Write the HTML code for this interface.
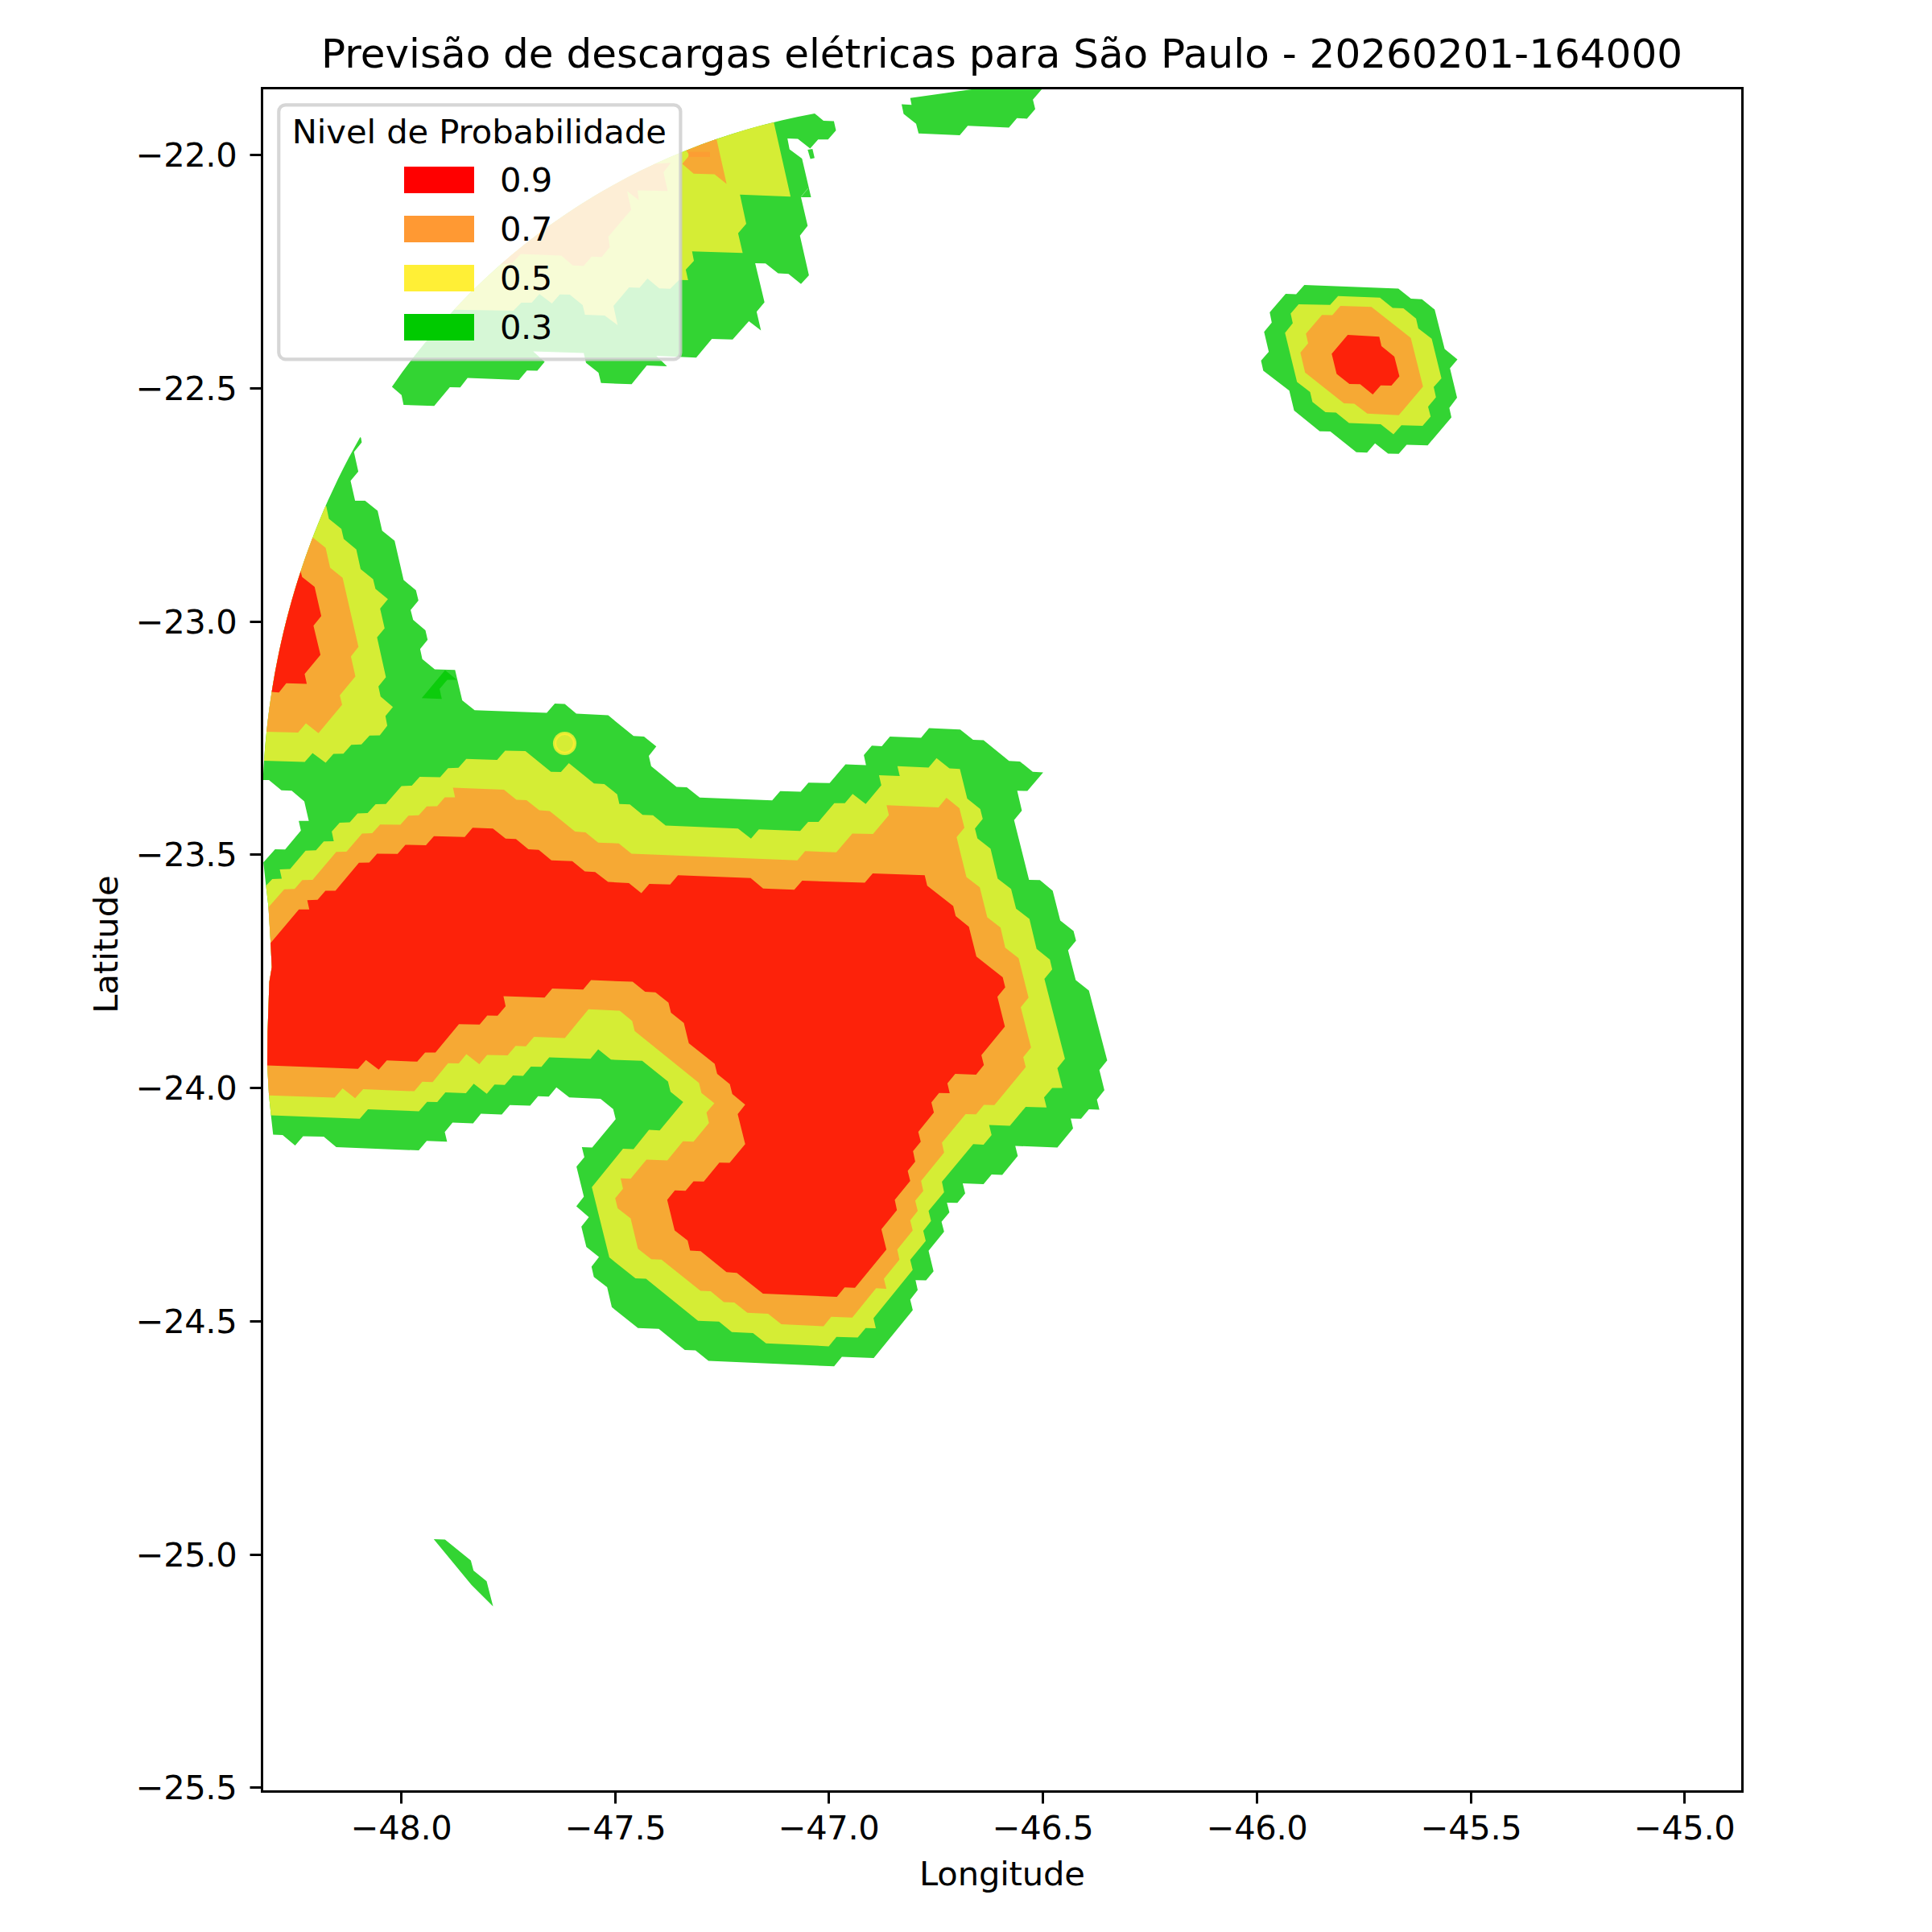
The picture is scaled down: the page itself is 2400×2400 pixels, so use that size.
<!DOCTYPE html>
<html lang="pt"><head><meta charset="utf-8"><title>Previsão de descargas elétricas para São Paulo</title>
<style>html,body{margin:0;padding:0;background:#fff}svg{display:block}text{font-family:'DejaVu Sans','Liberation Sans',sans-serif;fill:#000}</style></head><body>
<svg width="2400" height="2400" viewBox="0 0 2400 2400">
<rect width="2400" height="2400" fill="#fff"/>
<defs><clipPath id="ax"><rect x="325.5" y="109.5" width="1839.0" height="2116.0"/></clipPath></defs>
<g clip-path="url(#ax)">
<polygon fill="#33d433" points="448.4,543.8 449.4,549.6 439.7,561.4 445.1,585.8 435.5,597.2 441.1,621.9 453.5,622.1 469.1,634.5 474.7,659.3 490.2,671.8 501.4,720.4 516.7,733.3 519.8,746.1 510.1,757.7 513.2,770.1 528.5,782.9 531.2,794.7 521.9,806.3 524.6,818.8 540.1,831.6 565.3,832.2 574.2,869.9 589.6,882.3 679.2,885.4 689.2,874.0 701.6,874.5 715.9,886.5 755.5,888.6 787.0,914.2 800.0,914.9 815.3,927.3 806.0,939.1 808.9,951.7 840.4,977.4 853.2,978.0 869.2,990.8 959.2,994.2 969.2,982.8 994.6,983.6 1004.3,972.2 1030.6,972.8 1050.3,949.4 1075.8,950.5 1073.1,938.1 1083.0,926.3 1095.4,926.9 1105.5,914.9 1144.2,916.5 1154.1,904.5 1192.8,906.2 1208.8,919.0 1221.8,919.6 1253.5,945.3 1267.0,945.9 1282.9,958.8 1295.9,959.4 1276.3,982.6 1263.6,982.2 1269.4,1007.0 1259.7,1018.8 1278.3,1092.9 1291.8,1093.3 1307.7,1106.4 1317.1,1143.6 1333.6,1156.5 1336.7,1168.5 1326.8,1180.5 1336.3,1217.6 1352.7,1230.6 1375.4,1317.3 1365.7,1329.3 1371.9,1354.2 1362.6,1366.0 1365.7,1378.4 1352.7,1378.0 1342.9,1389.8 1330.1,1389.4 1333.0,1401.8 1313.5,1425.4 1261.2,1423.5 1264.3,1435.9 1245.0,1459.5 1231.8,1459.1 1221.8,1470.9 1195.9,1469.9 1199.0,1482.5 1189.3,1494.3 1176.3,1493.9 1179.4,1506.1 1169.6,1517.7 1172.8,1530.1 1153.5,1553.7 1159.7,1579.2 1150.4,1590.6 1137.3,1590.2 1140.0,1602.6 1130.7,1614.4 1133.9,1627.4 1085.4,1687.0 1045.8,1685.5 1036.2,1697.3 880.1,1690.5 864.0,1677.6 850.7,1677.0 818.4,1650.7 792.5,1649.7 760.0,1623.8 754.2,1599.0 737.7,1586.3 734.8,1573.5 744.1,1561.5 728.4,1549.1 722.2,1523.8 731.5,1512.0 715.9,1498.5 725.3,1486.5 716.1,1449.2 725.9,1437.4 722.8,1425.0 735.6,1425.6 764.8,1390.2 761.7,1377.8 746.0,1364.9 707.2,1363.3 691.2,1350.8 681.7,1362.2 668.4,1361.8 658.5,1373.6 633.3,1372.8 623.3,1384.6 597.4,1383.6 587.7,1395.4 562.2,1394.5 552.5,1406.3 555.4,1418.3 530.1,1417.3 520.2,1429.1 417.7,1425.0 402.2,1412.1 376.5,1411.5 366.6,1422.9 351.1,1409.9 339.3,1409.4 336.6,1385.6 334.1,1360.8 332.0,1323.5 332.4,1282.1 334.5,1220.0 337.6,1201.6 336.1,1170.6 333.5,1127.1 330.4,1100.2 327.2,1071.2 341.7,1055.0 354.2,1055.2 373.8,1031.8 371.1,1019.8 383.6,1019.8 378.0,995.6 362.4,982.2 349.6,981.7 334.1,969.1 326.6,969.0 327.4,954.0 328.4,939.0 329.6,924.1 331.1,909.1 332.7,894.2 334.6,879.3 336.8,864.4 339.1,849.6 341.7,834.9 344.5,820.1 347.6,805.5 350.8,790.9 354.3,776.3 358.0,761.8 362.0,747.4 366.1,733.1 370.5,718.9 375.1,704.7 380.0,690.6 385.0,676.7 390.3,662.8 395.8,649.0 401.5,635.3 407.4,621.8 413.6,608.4 419.9,595.0 426.5,581.8 433.2,568.8 440.2,555.9 447.4,543.1"/>
<polygon fill="#33d433" points="1023.0,149.9 1035.9,150.5 1038.5,162.1 1028.7,173.2 1016.3,173.2 1006.4,184.4 991.1,172.5 978.2,171.9 980.8,185.4 996.3,197.0 1007.5,244.9 995.0,244.9 1003.3,280.6 993.7,292.8 1004.9,342.0 995.0,352.8 979.5,340.2 966.6,339.6 951.0,327.2 938.1,327.0 949.7,375.6 939.9,387.3 945.3,410.6 930.3,398.9 910.1,421.7 884.3,420.9 864.9,444.2 815.2,442.1 828.6,455.1 803.5,454.0 784.6,477.3 746.6,475.8 743.5,463.1 728.0,450.7 725.1,438.5 662.3,436.4 676.6,449.4 667.5,460.5 654.6,460.2 644.7,471.9 580.8,469.6 571.7,481.2 558.8,481.0 539.4,504.2 501.3,503.0 498.8,490.8 486.9,480.4 499.7,462.3 513.0,444.6 526.8,427.3 540.9,410.4 555.4,393.9 570.4,377.9 585.6,362.3 601.3,347.2 617.3,332.6 633.7,318.4 650.3,304.7 667.3,291.5 684.6,278.7 702.2,266.5 720.0,254.8 738.1,243.6 756.5,232.9 775.1,222.7 793.9,213.1 812.9,203.9 832.1,195.3 851.5,187.2 871.1,179.6 890.8,172.6 910.7,166.0 930.7,160.0 950.9,154.5 971.1,149.5 991.5,145.0 1012.0,141.0"/>
<polygon fill="#33d433" points="1003.3,185.9 1009.3,184.9 1011.9,196.3 1006.7,197.6"/>
<polygon fill="#33d433" points="1226.2,108.3 1130.7,121.7 1132.4,130.2 1120.0,129.6 1122.5,141.4 1138.0,153.8 1141.1,165.8 1192.2,167.9 1202.2,156.3 1253.3,158.6 1263.3,146.8 1275.7,147.4 1286.0,135.6 1283.1,123.8 1296.4,108.3"/>
<polygon fill="#33d433" points="1620.3,354.0 1737.1,358.6 1752.8,371.0 1766.4,371.8 1782.2,384.6 1794.6,433.5 1810.5,446.4 1801.2,457.5 1810.0,493.9 1800.4,506.7 1803.0,518.4 1773.5,553.2 1747.4,552.4 1737.6,563.8 1724.3,563.5 1708.1,550.7 1698.2,562.3 1684.9,561.8 1652.6,536.1 1639.4,535.7 1607.6,510.1 1601.6,485.3 1569.3,460.5 1566.5,448.0 1576.1,437.1 1570.3,412.3 1579.8,400.8 1577.3,387.9 1597.1,365.1 1610.1,365.5"/>
<polygon fill="#33d433" points="538.8,1912.1 552.8,1912.4 584.9,1938.4 588.2,1951.1 604.5,1964.3 612.5,1995.6 585.6,1968.7"/>
<polygon fill="#0ccc0c" points="552.9,832.6 567.4,844.6 555.6,844.4 546.1,855.8 548.8,868.2 523.9,867.2"/>
<polygon fill="#d5ed35" points="405.3,628.7 408.6,644.6 424.1,657.1 427.0,669.5 442.6,682.5 448.0,707.0 463.5,719.4 466.4,731.6 481.9,744.2 472.2,756.0 477.8,780.5 468.4,791.8 479.4,841.3 470.1,852.7 472.8,865.3 488.1,878.2 478.8,889.6 481.1,901.6 471.8,913.4 459.1,913.8 449.0,924.8 436.4,925.2 426.6,936.2 414.2,936.6 404.5,947.6 388.3,935.6 378.6,946.5 328.0,945.1 329.0,931.4 330.2,917.7 331.6,904.1 333.2,890.5 335.0,876.9 336.9,863.3 339.1,849.8 341.5,836.3 344.0,822.8 346.7,809.4 349.6,796.1 352.7,782.7 356.0,769.5 359.5,756.3 363.2,743.2 367.0,730.1 371.1,717.1 375.3,704.2 379.7,691.3 384.3,678.5 389.1,665.8 394.1,653.2 399.2,640.7 404.5,628.3"/>
<polygon fill="#d5ed35" points="330.4,1100.2 338.2,1091.9 350.0,1091.5 347.5,1080.1 360.4,1079.5 379.6,1056.7 392.5,1056.3 402.2,1045.3 414.6,1044.9 412.1,1032.9 421.9,1021.9 434.5,1021.5 444.2,1010.5 456.6,1010.1 466.6,999.1 479.4,998.7 498.7,976.4 511.5,975.9 521.4,965.0 546.7,965.6 556.6,954.2 569.5,953.8 579.2,942.8 617.5,943.9 627.5,932.5 652.7,933.1 684.4,958.8 696.8,959.0 706.7,948.0 737.9,973.3 750.7,973.9 766.7,986.7 769.4,998.7 782.4,999.3 798.3,1012.2 811.2,1012.8 826.9,1025.6 916.8,1029.2 932.9,1041.8 942.7,1030.2 994.0,1032.3 1003.9,1020.9 1016.8,1020.9 1036.4,997.7 1049.5,997.7 1059.2,986.3 1075.4,998.7 1094.8,975.5 1091.9,962.9 1117.7,964.1 1114.8,951.7 1153.5,953.6 1163.4,941.8 1179.4,954.6 1192.4,955.2 1201.5,992.1 1217.7,1004.9 1220.8,1017.3 1211.1,1029.2 1214.2,1041.6 1230.5,1054.2 1239.4,1091.5 1256.0,1104.3 1262.2,1128.7 1278.8,1141.6 1287.7,1178.8 1304.2,1191.9 1307.1,1204.3 1297.4,1216.1 1322.9,1315.2 1313.5,1327.0 1319.8,1351.5 1307.1,1351.5 1297.0,1363.3 1300.1,1375.7 1274.2,1374.9 1254.5,1398.5 1228.7,1397.6 1231.8,1409.9 1221.8,1421.9 1209.0,1421.2 1170.1,1468.0 1172.8,1480.9 1153.5,1504.3 1156.6,1516.7 1146.9,1529.1 1150.0,1541.5 1130.7,1565.1 1133.8,1577.6 1085.1,1637.5 1088.0,1649.9 1075.3,1649.8 1065.5,1661.6 1039.1,1660.8 1029.5,1672.4 951.6,1668.7 935.4,1655.9 909.1,1654.7 893.2,1641.8 867.1,1640.8 802.5,1588.6 789.4,1588.0 756.9,1562.1 735.2,1474.7 773.9,1427.0 787.0,1427.5 806.2,1403.6 819.5,1404.3 848.7,1369.1 832.9,1356.2 829.8,1343.6 797.7,1317.7 759.0,1316.3 743.1,1303.4 733.5,1315.2 682.3,1313.6 672.6,1325.2 659.5,1325.0 649.8,1336.6 637.2,1335.9 627.0,1347.7 614.4,1347.3 604.7,1358.7 588.5,1346.3 578.8,1358.1 553.3,1357.1 543.2,1369.1 530.6,1368.7 520.4,1380.5 457.1,1378.0 446.9,1389.8 336.6,1385.6 334.1,1360.8 332.0,1323.5 332.4,1282.1 334.5,1220.0 337.6,1201.6 336.1,1170.6 333.5,1127.1"/>
<polygon fill="#d5ed35" points="982.1,244.2 919.2,241.8 927.0,278.1 916.9,289.7 922.6,314.3 859.7,312.2 862.0,323.9 851.9,335.0 854.8,347.9 843.6,347.7 832.5,358.8 819.0,358.3 804.3,345.9 794.5,357.5 781.5,357.0 762.1,380.0 767.3,404.1 751.2,391.9 726.7,391.1 723.8,379.0 707.8,366.0 695.4,365.8 685.6,376.9 670.1,365.3 660.5,376.1 647.6,375.9 637.7,386.0 564.0,384.7 577.8,370.2 591.9,356.2 606.3,342.5 621.1,329.2 636.1,316.3 651.3,303.9 666.9,291.8 682.6,280.1 698.7,268.9 714.9,258.1 731.4,247.7 748.1,237.7 765.0,228.2 782.0,219.1 799.3,210.4 816.7,202.1 834.3,194.3 852.1,187.0 870.0,180.0 888.0,173.5 906.1,167.5 924.4,161.8 942.8,156.6 961.3,151.9"/>
<polygon fill="#d5ed35" points="1662.2,367.7 1714.2,369.7 1730.0,382.4 1743.4,382.9 1759.1,395.7 1761.9,408.1 1778.5,420.7 1790.6,469.9 1781.0,480.7 1783.8,493.4 1774.0,505.2 1777.2,517.4 1767.2,529.0 1740.9,528.2 1731.0,539.5 1715.1,527.0 1675.8,525.4 1659.6,512.6 1646.5,512.1 1630.3,499.2 1627.5,487.0 1611.2,474.4 1596.3,413.6 1605.9,401.5 1603.3,389.6 1613.2,378.0 1652.3,378.8"/>
<polygon fill="#f6a934" points="388.3,667.4 404.5,680.5 410.1,705.3 425.6,717.7 445.3,803.6 435.9,815.4 441.5,840.3 422.1,863.7 425.0,875.5 395.6,910.7 380.0,898.5 370.3,909.9 331.1,908.9 332.8,893.4 334.8,877.9 337.1,862.4 339.6,847.0 342.3,831.7 345.3,816.4 348.5,801.1 352.0,786.0 355.7,770.8 359.6,755.8 363.8,740.9 368.3,726.0 373.0,711.2 377.9,696.5 383.1,682.0 388.5,667.5"/>
<polygon fill="#f6a934" points="333.5,1127.1 353.1,1104.7 366.0,1104.3 375.5,1093.3 388.3,1092.9 417.7,1058.3 430.4,1058.1 449.8,1035.4 462.4,1034.9 472.2,1024.2 497.4,1024.6 507.4,1013.2 520.2,1012.8 530.1,1001.8 543.0,1001.4 552.5,990.4 565.3,990.4 562.7,978.6 626.0,981.1 641.5,993.5 654.0,994.0 669.9,1006.6 682.7,1007.4 714.4,1032.9 727.3,1033.9 743.1,1046.7 768.7,1047.8 784.5,1060.4 990.5,1068.7 1000.2,1057.3 1038.9,1058.8 1058.8,1035.4 1084.5,1036.0 1104.2,1012.6 1101.3,1000.2 1165.9,1002.9 1175.7,991.1 1191.8,1003.9 1198.0,1028.3 1188.3,1040.1 1200.5,1089.4 1217.1,1102.2 1226.4,1139.5 1242.9,1152.3 1248.7,1177.2 1265.3,1190.2 1277.7,1239.3 1268.0,1251.3 1280.8,1301.2 1271.1,1313.2 1274.2,1325.6 1235.3,1372.8 1222.2,1372.6 1212.5,1384.2 1199.5,1384.0 1170.1,1419.4 1172.8,1431.8 1144.2,1467.0 1146.9,1479.4 1136.9,1491.6 1140.0,1504.3 1130.7,1516.1 1133.8,1528.5 1114.6,1552.3 1117.3,1564.7 1098.0,1588.5 1101.1,1601.0 1088.3,1600.3 1058.7,1636.7 1032.6,1635.8 1023.0,1647.6 970.6,1644.9 954.2,1631.9 928.4,1630.8 912.2,1618.0 899.2,1617.4 882.8,1604.1 870.2,1603.5 821.7,1564.8 809.1,1564.2 792.5,1551.3 783.4,1513.6 767.3,1501.0 764.2,1488.5 773.9,1476.7 771.0,1463.7 783.4,1464.3 803.1,1440.5 829.0,1441.5 848.4,1417.7 861.5,1418.3 880.7,1394.9 877.6,1382.1 887.4,1370.5 871.4,1357.7 868.3,1345.3 788.4,1280.7 785.3,1268.2 769.8,1255.6 731.1,1253.7 701.7,1289.4 663.3,1287.9 653.3,1299.7 640.5,1299.3 630.6,1311.1 605.1,1310.5 595.4,1321.9 579.4,1309.6 569.9,1321.0 556.6,1320.8 537.4,1344.2 524.6,1343.8 514.6,1355.6 451.1,1352.9 441.1,1364.3 425.6,1352.1 415.7,1363.5 334.1,1360.8 332.0,1323.5 332.4,1282.1 334.5,1220.0 337.6,1201.6 336.1,1170.6"/>
<polygon fill="#f6a934" points="902.6,228.6 887.6,216.5 861.7,215.7 847.5,203.5 856.6,192.7 852.3,186.9 858.6,184.4 864.9,182.0 871.1,179.6 877.4,177.3 883.8,175.0 890.1,172.8"/>
<polygon fill="#f6a934" points="833.3,202.2 824.2,213.9 829.4,237.2 791.9,236.6 793.7,248.8 778.9,237.2 784.1,260.5 755.6,294.1 757.5,307.0 747.4,319.2 734.9,318.7 725.1,330.3 711.6,329.8 697.3,317.4 646.8,315.6 636.4,326.4 621.6,328.7 636.4,316.1 651.4,303.8 666.7,291.9 682.2,280.4 698.0,269.4 714.0,258.7 730.2,248.4 746.6,238.6 763.2,229.2 780.0,220.1 796.9,211.5 814.0,203.4"/>
<polygon fill="#f6a934" points="1665.1,380.0 1703.6,381.3 1752.5,419.7 1767.7,480.3 1737.6,515.8 1698.5,513.8 1682.4,501.4 1669.5,500.9 1621.2,462.8 1615.4,438.1 1625.0,426.5 1622.3,414.4 1642.2,391.2 1655.1,391.6"/>
<polygon fill="#fc9d33" points="855.3,188.8 881.9,188.8 881.9,195.0 855.3,195.0"/>
<polygon fill="#fd220a" points="373.4,709.4 375.3,716.7 390.8,729.1 399.1,765.3 389.4,777.3 398.1,813.6 378.4,837.2 381.1,849.6 355.6,848.8 346.5,860.2 337.5,859.6 339.6,846.9 341.8,834.1 344.3,821.5 346.8,808.8 349.6,796.2 352.5,783.7 355.6,771.2 358.9,758.7 362.3,746.3 365.9,734.0 369.6,721.7 373.6,709.5"/>
<polygon fill="#fd220a" points="336.1,1171.6 371.3,1129.8 384.2,1129.8 381.7,1118.2 394.5,1117.8 404.3,1106.4 416.7,1106.4 445.9,1071.8 458.7,1071.6 468.4,1060.4 493.9,1060.8 503.6,1049.4 529.1,1049.9 539.0,1038.7 577.3,1039.7 587.1,1028.3 612.3,1029.2 628.1,1041.8 640.9,1042.2 656.4,1055.0 669.3,1055.7 685.0,1068.7 710.9,1069.7 726.5,1082.6 739.3,1083.2 755.3,1095.6 781.2,1097.1 796.7,1109.5 806.6,1098.1 832.5,1098.7 842.2,1087.3 932.5,1090.8 948.0,1103.7 986.7,1105.3 996.5,1094.0 1074.3,1096.6 1084.1,1085.1 1148.7,1087.3 1151.8,1100.2 1184.1,1125.6 1187.2,1138.1 1203.6,1151.3 1212.9,1188.2 1245.6,1214.0 1248.7,1226.5 1239.0,1238.3 1248.3,1275.3 1219.1,1310.7 1222.2,1323.1 1212.5,1334.9 1186.6,1333.9 1176.9,1345.7 1179.8,1358.1 1166.5,1357.7 1157.0,1369.5 1160.1,1382.1 1140.7,1405.9 1143.8,1418.3 1134.2,1430.1 1136.9,1443.0 1127.6,1454.6 1130.7,1467.0 1111.5,1490.6 1114.2,1503.2 1094.9,1527.0 1101.1,1552.3 1062.1,1599.8 1049.2,1599.3 1039.6,1610.9 947.8,1607.0 915.3,1581.2 902.5,1580.3 870.4,1554.2 857.3,1553.4 854.2,1541.0 838.1,1528.6 828.8,1490.6 838.3,1478.8 851.6,1479.2 861.5,1467.4 874.3,1467.8 893.6,1444.2 906.4,1444.6 925.7,1421.2 916.4,1384.0 925.7,1372.2 909.7,1359.1 906.6,1346.7 890.9,1333.9 887.8,1321.4 855.7,1296.0 849.5,1270.7 833.5,1257.9 830.4,1245.5 814.3,1232.8 801.4,1232.0 785.9,1219.6 734.2,1217.6 724.4,1229.2 686.0,1227.9 676.5,1239.3 625.4,1237.6 628.1,1250.0 618.1,1261.8 605.3,1261.4 595.8,1272.8 570.1,1272.2 540.9,1307.6 528.1,1307.4 518.3,1318.8 480.5,1317.3 470.5,1328.7 454.6,1316.7 444.8,1327.7 332.0,1323.5 332.4,1282.1 334.5,1220.0 337.6,1201.6"/>
<polygon fill="#fd220a" points="1674.2,416.1 1713.4,418.2 1716.1,430.1 1732.1,442.9 1738.4,467.4 1728.5,479.0 1715.2,478.7 1705.3,490.1 1689.6,477.3 1676.3,476.9 1660.4,464.4 1654.3,439.6"/>
<line x1="1003.8" y1="234" x2="995.1" y2="244.5" stroke="#fff" stroke-opacity="0.35" stroke-width="1"/>
<circle cx="701.5" cy="923.5" r="14.58" fill="#d5ed35"/><circle cx="701.5" cy="923.5" r="11.46" fill="none" stroke="#f7ee33" stroke-width="2.08"/>
</g>
<rect x="346.3" y="130.3" width="499.1" height="316.0" rx="8.3" ry="8.3" fill="#fff" fill-opacity="0.8" stroke="#ccc" stroke-opacity="0.8" stroke-width="4.17"/>
<text x="362.7" y="177.6" font-size="41.67" letter-spacing="-0.06">Nivel de Probabilidade</text>
<rect x="502" y="207.0" width="87" height="33" fill="#ff0000"/>
<text x="620.9" y="238.2" font-size="41.67" letter-spacing="-0.5">0.9</text>
<rect x="502" y="268.0" width="87" height="33" fill="#ff9933"/>
<text x="620.9" y="299.2" font-size="41.67" letter-spacing="-0.5">0.7</text>
<rect x="502" y="329.0" width="87" height="33" fill="#ffef36"/>
<text x="620.9" y="360.2" font-size="41.67" letter-spacing="-0.5">0.5</text>
<rect x="502" y="390.0" width="87" height="33" fill="#00ca00"/>
<text x="620.9" y="421.2" font-size="41.67" letter-spacing="-0.5">0.3</text>
<rect x="325.5" y="109.5" width="1839.0" height="2116.0" fill="none" stroke="#000" stroke-width="3" stroke-linejoin="miter"/>
<line x1="498.5" y1="2225.5" x2="498.5" y2="2240.5" stroke="#000" stroke-width="3"/>
<text x="498.5" y="2285.2" font-size="41.67" letter-spacing="-0.4" text-anchor="middle">−48.0</text>
<line x1="764.5" y1="2225.5" x2="764.5" y2="2240.5" stroke="#000" stroke-width="3"/>
<text x="764.5" y="2285.2" font-size="41.67" letter-spacing="-0.4" text-anchor="middle">−47.5</text>
<line x1="1029.5" y1="2225.5" x2="1029.5" y2="2240.5" stroke="#000" stroke-width="3"/>
<text x="1029.5" y="2285.2" font-size="41.67" letter-spacing="-0.4" text-anchor="middle">−47.0</text>
<line x1="1295.5" y1="2225.5" x2="1295.5" y2="2240.5" stroke="#000" stroke-width="3"/>
<text x="1295.5" y="2285.2" font-size="41.67" letter-spacing="-0.4" text-anchor="middle">−46.5</text>
<line x1="1561.5" y1="2225.5" x2="1561.5" y2="2240.5" stroke="#000" stroke-width="3"/>
<text x="1561.5" y="2285.2" font-size="41.67" letter-spacing="-0.4" text-anchor="middle">−46.0</text>
<line x1="1827.5" y1="2225.5" x2="1827.5" y2="2240.5" stroke="#000" stroke-width="3"/>
<text x="1827.5" y="2285.2" font-size="41.67" letter-spacing="-0.4" text-anchor="middle">−45.5</text>
<line x1="2092.5" y1="2225.5" x2="2092.5" y2="2240.5" stroke="#000" stroke-width="3"/>
<text x="2092.5" y="2285.2" font-size="41.67" letter-spacing="-0.4" text-anchor="middle">−45.0</text>
<line x1="310.5" y1="192.5" x2="325.5" y2="192.5" stroke="#000" stroke-width="3"/>
<text x="294.3" y="206.9" font-size="41.67" letter-spacing="-0.4" text-anchor="end">−22.0</text>
<line x1="310.5" y1="482.5" x2="325.5" y2="482.5" stroke="#000" stroke-width="3"/>
<text x="294.3" y="496.9" font-size="41.67" letter-spacing="-0.4" text-anchor="end">−22.5</text>
<line x1="310.5" y1="772.5" x2="325.5" y2="772.5" stroke="#000" stroke-width="3"/>
<text x="294.3" y="786.9" font-size="41.67" letter-spacing="-0.4" text-anchor="end">−23.0</text>
<line x1="310.5" y1="1061.5" x2="325.5" y2="1061.5" stroke="#000" stroke-width="3"/>
<text x="294.3" y="1075.9" font-size="41.67" letter-spacing="-0.4" text-anchor="end">−23.5</text>
<line x1="310.5" y1="1351.5" x2="325.5" y2="1351.5" stroke="#000" stroke-width="3"/>
<text x="294.3" y="1365.9" font-size="41.67" letter-spacing="-0.4" text-anchor="end">−24.0</text>
<line x1="310.5" y1="1641.5" x2="325.5" y2="1641.5" stroke="#000" stroke-width="3"/>
<text x="294.3" y="1655.9" font-size="41.67" letter-spacing="-0.4" text-anchor="end">−24.5</text>
<line x1="310.5" y1="1931.5" x2="325.5" y2="1931.5" stroke="#000" stroke-width="3"/>
<text x="294.3" y="1945.9" font-size="41.67" letter-spacing="-0.4" text-anchor="end">−25.0</text>
<line x1="310.5" y1="2220.5" x2="325.5" y2="2220.5" stroke="#000" stroke-width="3"/>
<text x="294.3" y="2234.9" font-size="41.67" letter-spacing="-0.4" text-anchor="end">−25.5</text>
<text x="1244.9" y="2342.3" font-size="41.67" letter-spacing="-0.17" text-anchor="middle">Longitude</text>
<text transform="translate(145.5 1173.0) rotate(-90)" font-size="41.67" text-anchor="middle">Latitude</text>
<text x="1244.5" y="84.2" font-size="50" text-anchor="middle">Previsão de descargas elétricas para São Paulo - 20260201-164000</text>
</svg></body></html>
